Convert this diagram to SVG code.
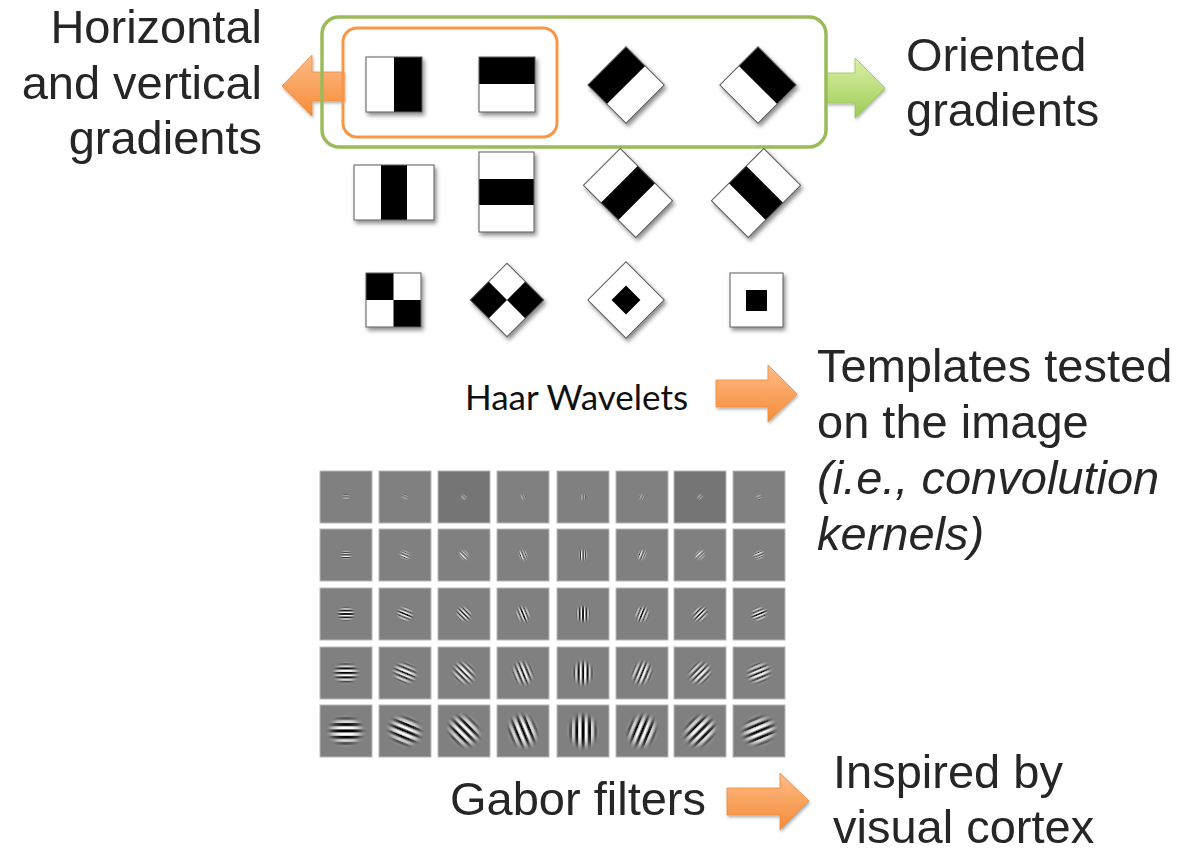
<svg xmlns="http://www.w3.org/2000/svg" xmlns:xlink="http://www.w3.org/1999/xlink" width="1192" height="855" viewBox="0 0 1192 855">
  <style>
    .lbl { font-family: "Liberation Sans", Arial, sans-serif; font-size: 47px; fill: #262626; }
    .haar { font-family: Lato, "Open Sans", sans-serif; font-size: 35px; fill: #101010; }
    .tile { stroke: #5a5a5a; stroke-width: 1; }
    .w { fill: #ffffff; }
    .k { fill: #000000; }
    .cell { fill: #808080; stroke: #b8b8b8; stroke-width: 1; }
    .cell.dk { fill: #757575; }
    .arrO { fill: url(#gradO); stroke: #f08a36; stroke-width: 0.8; filter: url(#arrShadow); }
    .arrG { fill: url(#gradG); stroke: #98c656; stroke-width: 0.8; filter: url(#arrShadow); }
  </style>
  <defs>
    <filter id="tileShadow" x="-30%" y="-30%" width="160%" height="160%">
      <feDropShadow dx="2" dy="3" stdDeviation="2" flood-color="#000" flood-opacity="0.45"/>
    </filter>
    <filter id="arrShadow" x="-20%" y="-20%" width="140%" height="150%">
      <feDropShadow dx="1" dy="2" stdDeviation="1.5" flood-color="#000" flood-opacity="0.3"/>
    </filter>
    <linearGradient id="gradO" x1="0" y1="0" x2="0" y2="1">
      <stop offset="0" stop-color="#fdbb88"/>
      <stop offset="1" stop-color="#f68c38"/>
    </linearGradient>
    <linearGradient id="gradG" x1="0" y1="0" x2="0" y2="1">
      <stop offset="0" stop-color="#dcf0a8"/>
      <stop offset="1" stop-color="#9dcc56"/>
    </linearGradient>

    <!-- Gaussian envelope for the Gabor kernels (alpha falloff) -->
    <radialGradient id="env">
      <stop offset="0" stop-color="#fff" stop-opacity="1"/>
      <stop offset="0.35" stop-color="#fff" stop-opacity="0.95"/>
      <stop offset="0.65" stop-color="#fff" stop-opacity="0.55"/>
      <stop offset="0.85" stop-color="#fff" stop-opacity="0.15"/>
      <stop offset="1" stop-color="#fff" stop-opacity="0"/>
    </radialGradient>

    <!-- stripe carriers, dark stripe centred on y=0 -->
    <pattern id="st1" patternUnits="userSpaceOnUse" x="-50" y="-0.55" width="100" height="2.2">
      <rect width="100" height="1.1" fill="#000"/><rect y="1.1" width="100" height="1.1" fill="#fff"/>
    </pattern>
    <pattern id="st2" patternUnits="userSpaceOnUse" x="-50" y="-0.65" width="100" height="2.6">
      <rect width="100" height="1.3" fill="#000"/><rect y="1.3" width="100" height="1.3" fill="#fff"/>
    </pattern>
    <pattern id="st3" patternUnits="userSpaceOnUse" x="-50" y="-0.85" width="100" height="3.4">
      <rect width="100" height="1.7" fill="#000"/><rect y="1.7" width="100" height="1.7" fill="#fff"/>
    </pattern>
    <pattern id="st4" patternUnits="userSpaceOnUse" x="-50" y="-1.125" width="100" height="4.5">
      <rect width="100" height="2.25" fill="#000"/><rect y="2.25" width="100" height="2.25" fill="#fff"/>
    </pattern>
    <pattern id="st5" patternUnits="userSpaceOnUse" x="-50" y="-1.6" width="100" height="6.4">
      <rect width="100" height="3.2" fill="#000"/><rect y="3.2" width="100" height="3.2" fill="#fff"/>
    </pattern>

    <filter id="bl1" x="-20%" y="-20%" width="140%" height="140%"><feGaussianBlur stdDeviation="0.3"/></filter>
    <filter id="bl2" x="-20%" y="-20%" width="140%" height="140%"><feGaussianBlur stdDeviation="0.35"/></filter>
    <filter id="bl3" x="-20%" y="-20%" width="140%" height="140%"><feGaussianBlur stdDeviation="0.45"/></filter>
    <filter id="bl4" x="-20%" y="-20%" width="140%" height="140%"><feGaussianBlur stdDeviation="0.55"/></filter>
    <filter id="bl5" x="-20%" y="-20%" width="140%" height="140%"><feGaussianBlur stdDeviation="0.75"/></filter>

    <mask id="mk1" maskUnits="userSpaceOnUse" x="-30" y="-30" width="60" height="60"><ellipse rx="4.4" ry="3.6" fill="url(#env)"/></mask>
    <mask id="mk2" maskUnits="userSpaceOnUse" x="-30" y="-30" width="60" height="60"><ellipse rx="7" ry="5.8" fill="url(#env)"/></mask>
    <mask id="mk3" maskUnits="userSpaceOnUse" x="-30" y="-30" width="60" height="60"><ellipse rx="10" ry="8" fill="url(#env)"/></mask>
    <mask id="mk4" maskUnits="userSpaceOnUse" x="-30" y="-30" width="60" height="60"><ellipse rx="14.5" ry="12" fill="url(#env)"/></mask>
    <mask id="mk5" maskUnits="userSpaceOnUse" x="-30" y="-30" width="60" height="60"><ellipse rx="20" ry="17" fill="url(#env)"/></mask>

    <g id="gab1" mask="url(#mk1)"><rect x="-8" y="-8" width="16" height="16" fill="url(#st1)" filter="url(#bl1)"/></g>
    <g id="gab2" mask="url(#mk2)"><rect x="-10" y="-10" width="20" height="20" fill="url(#st2)" filter="url(#bl2)"/></g>
    <g id="gab3" mask="url(#mk3)"><rect x="-14" y="-14" width="28" height="28" fill="url(#st3)" filter="url(#bl3)"/></g>
    <g id="gab4" mask="url(#mk4)"><rect x="-20" y="-20" width="40" height="40" fill="url(#st4)" filter="url(#bl4)"/></g>
    <g id="gab5" mask="url(#mk5)"><rect x="-25" y="-25" width="50" height="50" fill="url(#st5)" filter="url(#bl5)"/></g>
  </defs>

  <rect width="1192" height="855" fill="#ffffff"/>

  <!-- block arrows -->
  <g id="connectors">
    <path class="arrO" d="M282,86 L312,55 L312,72 L344,72 L344,101 L312,101 L312,116 Z"/>
    <path class="arrG" d="M826,73 L855,73 L855,58 L885,88 L855,118 L855,103 L826,103 Z"/>
    <path class="arrO" d="M716,380 L768,380 L768,365 L797,394 L768,422 L768,407 L716,407 Z"/>
    <path class="arrO" d="M727,788 L780,788 L780,773 L809,801 L780,830 L780,815 L727,815 Z"/>
  </g>

  <!-- grouping frames -->
  <g id="oriented-frame">
    <rect x="322" y="17" width="504" height="130" rx="17" fill="none" stroke="#9bbb59" stroke-width="3.5"/>
  </g>
  <g id="hv-frame">
    <rect x="343" y="28" width="214" height="109" rx="14" fill="none" stroke="#f79646" stroke-width="3"/>
  </g>

  <!-- Haar wavelet templates -->
  <g id="haar" filter="url(#tileShadow)">
    <g id="haar-v2">
      <rect class="w" x="366" y="57" width="28" height="55"/>
      <rect class="k" x="394" y="57" width="28" height="55"/>
      <rect class="tile" x="366" y="57" width="56" height="55" fill="none"/>
    </g>
    <g id="haar-h2">
      <rect class="k" x="479" y="57" width="56" height="27"/>
      <rect class="w" x="479" y="84" width="56" height="28"/>
      <rect class="tile" x="479" y="57" width="56" height="55" fill="none"/>
    </g>
    <g id="haar-d2a" transform="translate(626,85) rotate(45)">
      <rect class="w" x="-27" y="-27" width="54" height="54"/>
      <rect class="k" x="-27" y="-27" width="27" height="54"/>
      <rect class="tile" x="-27" y="-27" width="54" height="54" fill="none"/>
    </g>
    <g id="haar-d2b" transform="translate(758,85) rotate(45)">
      <rect class="w" x="-27" y="-27" width="54" height="54"/>
      <rect class="k" x="-27" y="-27" width="54" height="27"/>
      <rect class="tile" x="-27" y="-27" width="54" height="54" fill="none"/>
    </g>

    <g id="haar-v3">
      <rect class="w" x="354" y="165" width="80" height="55"/>
      <rect class="k" x="381" y="165" width="26" height="55"/>
      <rect class="tile" x="354" y="165" width="80" height="55" fill="none"/>
    </g>
    <g id="haar-h3">
      <rect class="w" x="479" y="152" width="55" height="80"/>
      <rect class="k" x="479" y="179" width="55" height="26"/>
      <rect class="tile" x="479" y="152" width="55" height="80" fill="none"/>
    </g>
    <g id="haar-d3a" transform="translate(628,193) rotate(45)">
      <rect class="w" x="-37" y="-26" width="74" height="52"/>
      <rect class="k" x="-12.3" y="-26" width="24.6" height="52"/>
      <rect class="tile" x="-37" y="-26" width="74" height="52" fill="none"/>
    </g>
    <g id="haar-d3b" transform="translate(756,193) rotate(-45)">
      <rect class="w" x="-37" y="-26" width="74" height="52"/>
      <rect class="k" x="-12.3" y="-26" width="24.6" height="52"/>
      <rect class="tile" x="-37" y="-26" width="74" height="52" fill="none"/>
    </g>

    <g id="haar-check">
      <rect class="w" x="366" y="273" width="55" height="54"/>
      <rect class="k" x="366" y="273" width="27.5" height="27"/>
      <rect class="k" x="393.5" y="300" width="27.5" height="27"/>
      <rect class="tile" x="366" y="273" width="55" height="54" fill="none"/>
    </g>
    <g id="haar-dcheck" transform="translate(507,300) rotate(45)">
      <rect class="w" x="-26" y="-26" width="52" height="52"/>
      <rect class="k" x="-26" y="0" width="26" height="26"/>
      <rect class="k" x="0" y="-26" width="26" height="26"/>
      <rect class="tile" x="-26" y="-26" width="52" height="52" fill="none"/>
    </g>
    <g id="haar-dcenter" transform="translate(626,300) rotate(45)">
      <rect class="w" x="-27" y="-27" width="54" height="54"/>
      <rect class="k" x="-10.2" y="-10.2" width="20.4" height="20.4"/>
      <rect class="tile" x="-27" y="-27" width="54" height="54" fill="none"/>
    </g>
    <g id="haar-center">
      <rect class="w" x="730" y="273" width="53" height="54"/>
      <rect class="k" x="746" y="290" width="21" height="21"/>
      <rect class="tile" x="730" y="273" width="53" height="54" fill="none"/>
    </g>
  </g>

  <g id="haar-caption">
    <text class="haar" x="465" y="410">Haar Wavelets</text>
  </g>

  <!-- Gabor filter bank: 5 scales x 8 orientations -->
  <g id="gabor">
    <!-- scale 1 -->
    <g transform="translate(346,497)"><rect class="cell" x="-26" y="-26" width="52" height="52"/><use href="#gab1" transform="rotate(0)"/></g>
    <g transform="translate(405,497)"><rect class="cell" x="-26" y="-26" width="52" height="52"/><use href="#gab1" transform="rotate(22.5)"/></g>
    <g transform="translate(464,497)"><rect class="cell dk" x="-26" y="-26" width="52" height="52"/><use href="#gab1" transform="rotate(45)"/></g>
    <g transform="translate(523,497)"><rect class="cell" x="-26" y="-26" width="52" height="52"/><use href="#gab1" transform="rotate(67.5)"/></g>
    <g transform="translate(583,497)"><rect class="cell" x="-26" y="-26" width="52" height="52"/><use href="#gab1" transform="rotate(90)"/></g>
    <g transform="translate(642,497)"><rect class="cell" x="-26" y="-26" width="52" height="52"/><use href="#gab1" transform="rotate(112.5)"/></g>
    <g transform="translate(700,497)"><rect class="cell dk" x="-26" y="-26" width="52" height="52"/><use href="#gab1" transform="rotate(135)"/></g>
    <g transform="translate(759,497)"><rect class="cell" x="-26" y="-26" width="52" height="52"/><use href="#gab1" transform="rotate(157.5)"/></g>
    <!-- scale 2 -->
    <g transform="translate(346,555)"><rect class="cell" x="-26" y="-26" width="52" height="52"/><use href="#gab2" transform="rotate(0)"/></g>
    <g transform="translate(405,555)"><rect class="cell" x="-26" y="-26" width="52" height="52"/><use href="#gab2" transform="rotate(22.5)"/></g>
    <g transform="translate(464,555)"><rect class="cell" x="-26" y="-26" width="52" height="52"/><use href="#gab2" transform="rotate(45)"/></g>
    <g transform="translate(523,555)"><rect class="cell" x="-26" y="-26" width="52" height="52"/><use href="#gab2" transform="rotate(67.5)"/></g>
    <g transform="translate(583,555)"><rect class="cell" x="-26" y="-26" width="52" height="52"/><use href="#gab2" transform="rotate(90)"/></g>
    <g transform="translate(642,555)"><rect class="cell" x="-26" y="-26" width="52" height="52"/><use href="#gab2" transform="rotate(112.5)"/></g>
    <g transform="translate(700,555)"><rect class="cell" x="-26" y="-26" width="52" height="52"/><use href="#gab2" transform="rotate(135)"/></g>
    <g transform="translate(759,555)"><rect class="cell" x="-26" y="-26" width="52" height="52"/><use href="#gab2" transform="rotate(157.5)"/></g>
    <!-- scale 3 -->
    <g transform="translate(346,614)"><rect class="cell" x="-26" y="-26" width="52" height="52"/><use href="#gab3" transform="rotate(0)"/></g>
    <g transform="translate(405,614)"><rect class="cell" x="-26" y="-26" width="52" height="52"/><use href="#gab3" transform="rotate(22.5)"/></g>
    <g transform="translate(464,614)"><rect class="cell" x="-26" y="-26" width="52" height="52"/><use href="#gab3" transform="rotate(45)"/></g>
    <g transform="translate(523,614)"><rect class="cell" x="-26" y="-26" width="52" height="52"/><use href="#gab3" transform="rotate(67.5)"/></g>
    <g transform="translate(583,614)"><rect class="cell" x="-26" y="-26" width="52" height="52"/><use href="#gab3" transform="rotate(90)"/></g>
    <g transform="translate(642,614)"><rect class="cell" x="-26" y="-26" width="52" height="52"/><use href="#gab3" transform="rotate(112.5)"/></g>
    <g transform="translate(700,614)"><rect class="cell" x="-26" y="-26" width="52" height="52"/><use href="#gab3" transform="rotate(135)"/></g>
    <g transform="translate(759,614)"><rect class="cell" x="-26" y="-26" width="52" height="52"/><use href="#gab3" transform="rotate(157.5)"/></g>
    <!-- scale 4 -->
    <g transform="translate(346,673)"><rect class="cell" x="-26" y="-26" width="52" height="52"/><use href="#gab4" transform="rotate(0)"/></g>
    <g transform="translate(405,673)"><rect class="cell" x="-26" y="-26" width="52" height="52"/><use href="#gab4" transform="rotate(22.5)"/></g>
    <g transform="translate(464,673)"><rect class="cell" x="-26" y="-26" width="52" height="52"/><use href="#gab4" transform="rotate(45)"/></g>
    <g transform="translate(523,673)"><rect class="cell" x="-26" y="-26" width="52" height="52"/><use href="#gab4" transform="rotate(67.5)"/></g>
    <g transform="translate(583,673)"><rect class="cell" x="-26" y="-26" width="52" height="52"/><use href="#gab4" transform="rotate(90)"/></g>
    <g transform="translate(642,673)"><rect class="cell" x="-26" y="-26" width="52" height="52"/><use href="#gab4" transform="rotate(112.5)"/></g>
    <g transform="translate(700,673)"><rect class="cell" x="-26" y="-26" width="52" height="52"/><use href="#gab4" transform="rotate(135)"/></g>
    <g transform="translate(759,673)"><rect class="cell" x="-26" y="-26" width="52" height="52"/><use href="#gab4" transform="rotate(157.5)"/></g>
    <!-- scale 5 -->
    <g transform="translate(346,731)"><rect class="cell" x="-26" y="-26" width="52" height="52"/><use href="#gab5" transform="rotate(0)"/></g>
    <g transform="translate(405,731)"><rect class="cell" x="-26" y="-26" width="52" height="52"/><use href="#gab5" transform="rotate(22.5)"/></g>
    <g transform="translate(464,731)"><rect class="cell" x="-26" y="-26" width="52" height="52"/><use href="#gab5" transform="rotate(45)"/></g>
    <g transform="translate(523,731)"><rect class="cell" x="-26" y="-26" width="52" height="52"/><use href="#gab5" transform="rotate(67.5)"/></g>
    <g transform="translate(583,731)"><rect class="cell" x="-26" y="-26" width="52" height="52"/><use href="#gab5" transform="rotate(90)"/></g>
    <g transform="translate(642,731)"><rect class="cell" x="-26" y="-26" width="52" height="52"/><use href="#gab5" transform="rotate(112.5)"/></g>
    <g transform="translate(700,731)"><rect class="cell" x="-26" y="-26" width="52" height="52"/><use href="#gab5" transform="rotate(135)"/></g>
    <g transform="translate(759,731)"><rect class="cell" x="-26" y="-26" width="52" height="52"/><use href="#gab5" transform="rotate(157.5)"/></g>
  </g>

  <!-- labels -->
  <g id="label-hv">
    <text class="lbl" text-anchor="end" x="262" y="43">Horizontal</text>
    <text class="lbl" text-anchor="end" x="262" y="99">and vertical</text>
    <text class="lbl" text-anchor="end" x="262" y="154">gradients</text>
  </g>
  <g id="label-oriented">
    <text class="lbl" x="906" y="71">Oriented</text>
    <text class="lbl" x="906" y="126">gradients</text>
  </g>
  <g id="label-templates">
    <text class="lbl" x="817" y="382">Templates tested</text>
    <text class="lbl" x="817" y="438">on the image</text>
    <text class="lbl" x="817" y="494" font-style="italic">(i.e., convolution</text>
    <text class="lbl" x="817" y="550" font-style="italic">kernels)</text>
  </g>
  <g id="label-gabor">
    <text class="lbl" x="450" y="815">Gabor filters</text>
  </g>
  <g id="label-cortex">
    <text class="lbl" x="833" y="788">Inspired by</text>
    <text class="lbl" x="833" y="843">visual cortex</text>
  </g>
</svg>
